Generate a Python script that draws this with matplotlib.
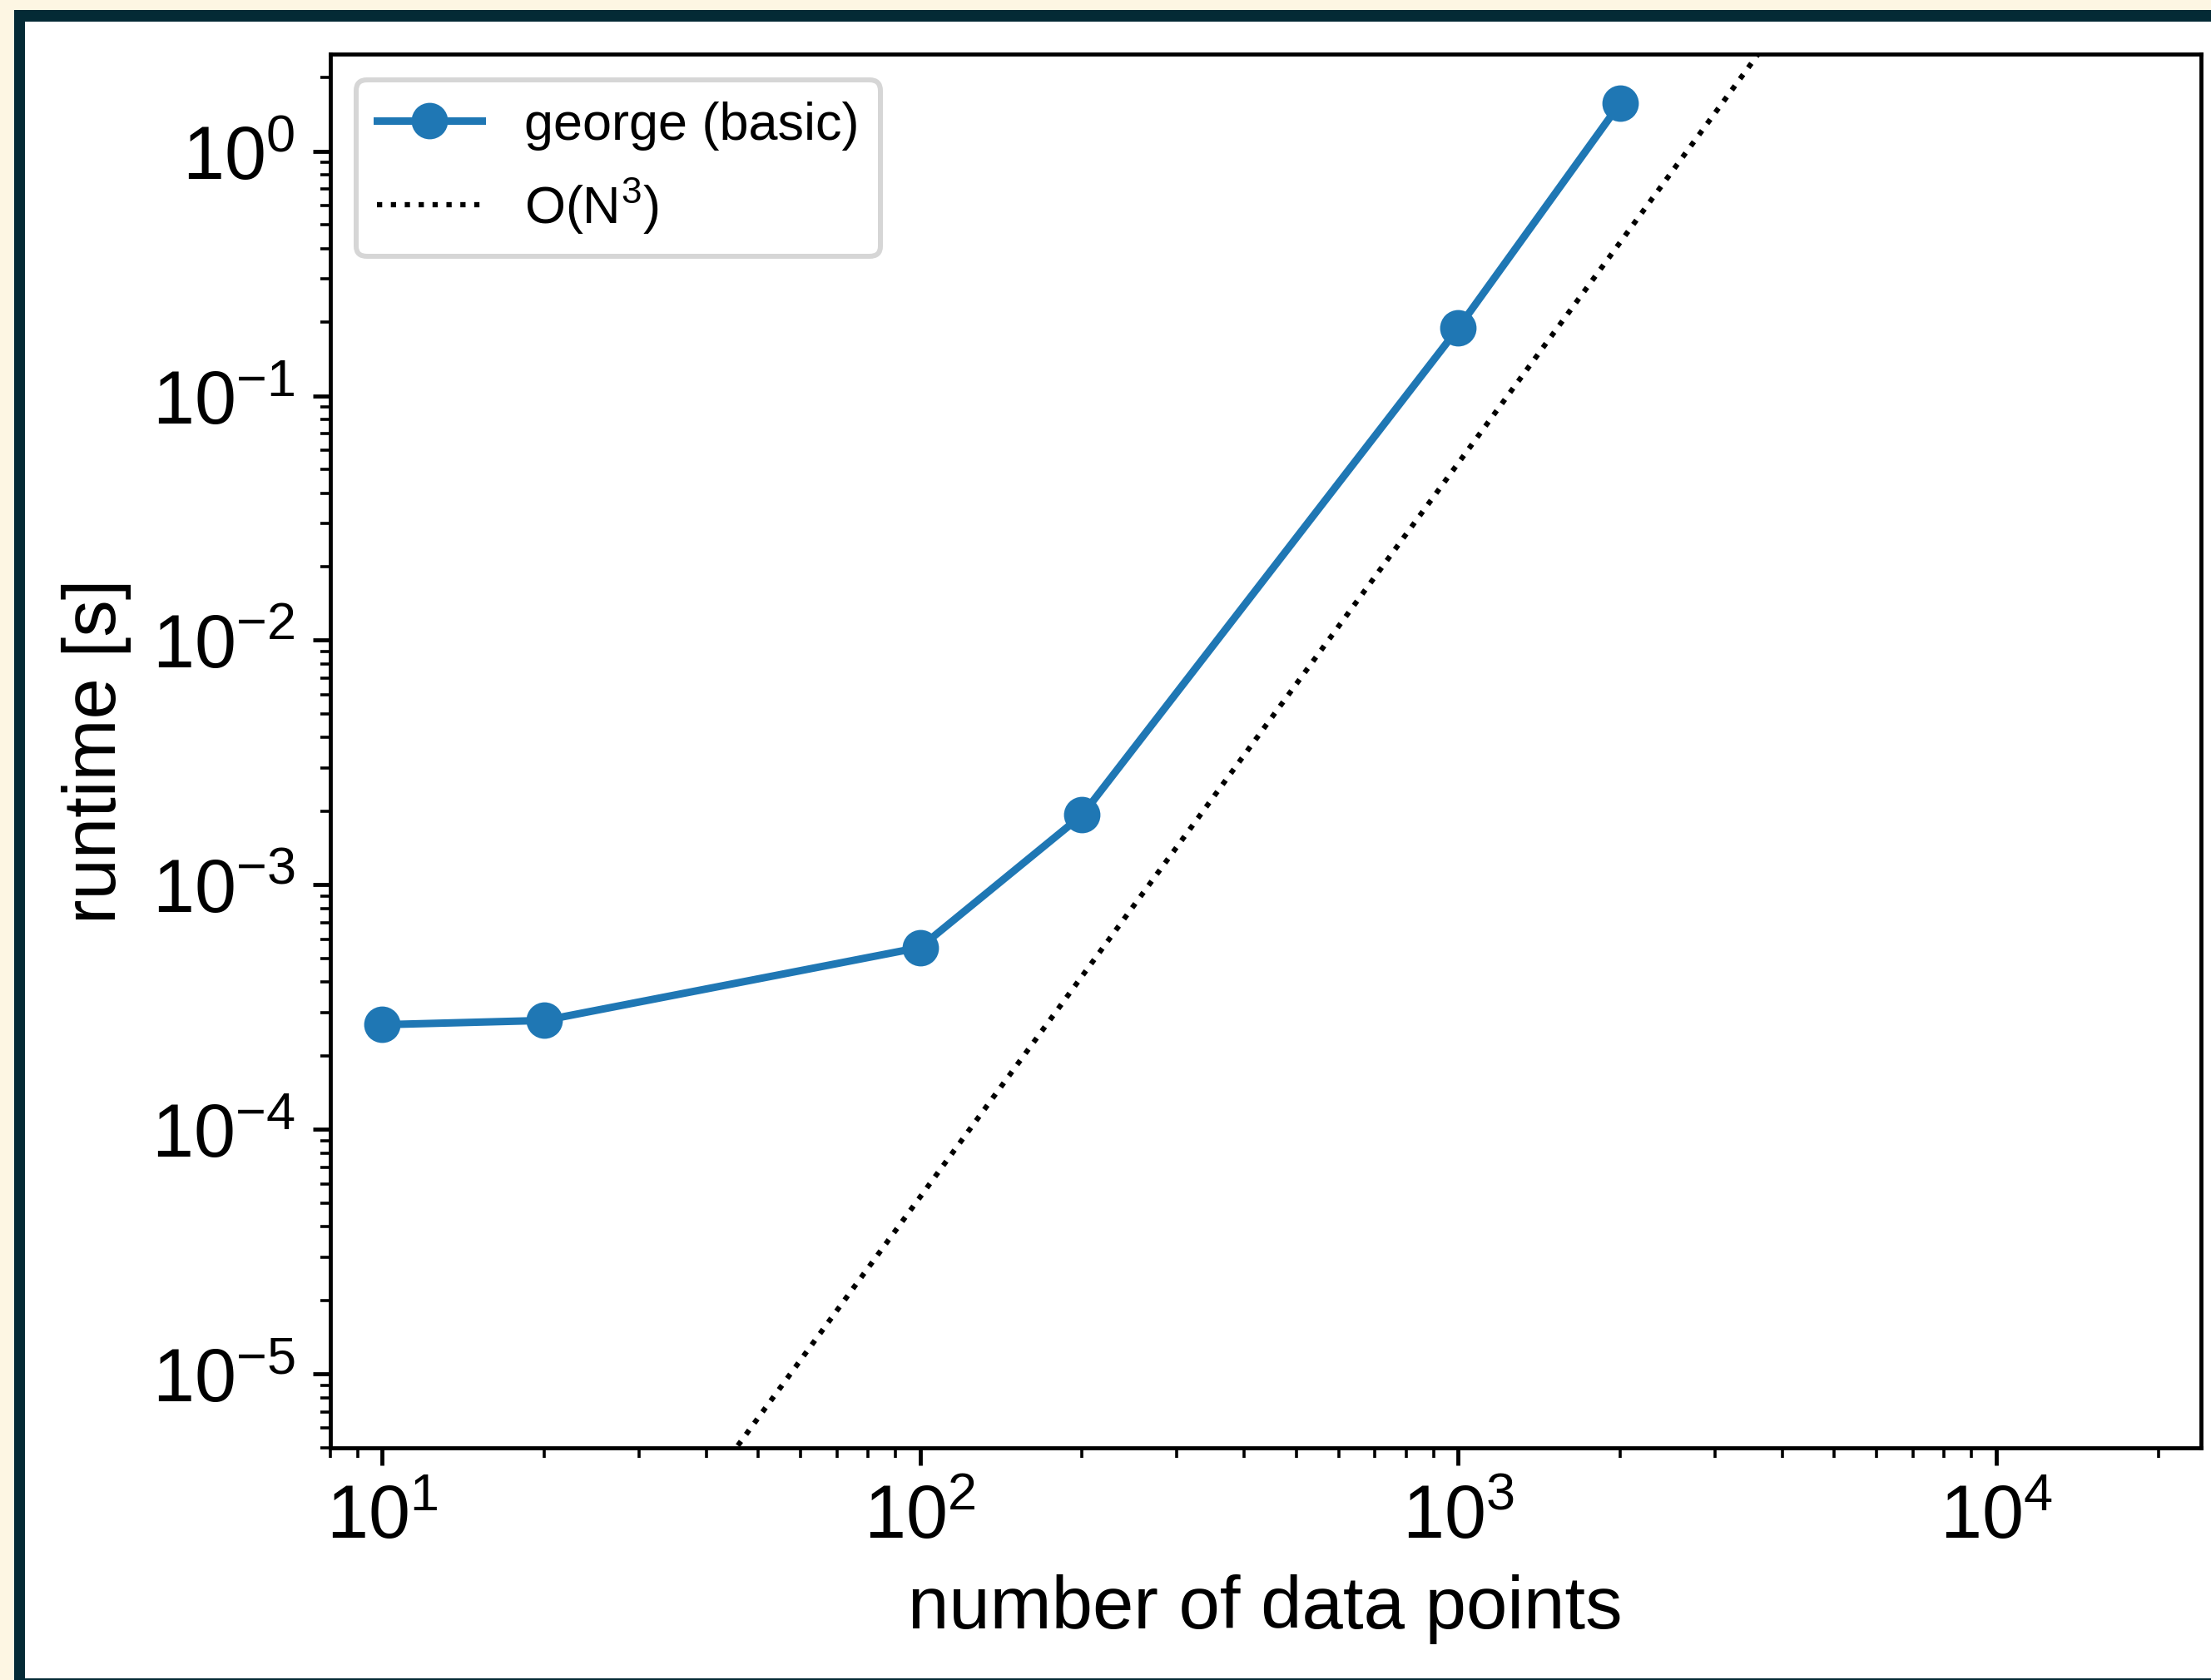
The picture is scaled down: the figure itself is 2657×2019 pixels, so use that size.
import matplotlib
matplotlib.use('Agg')
import matplotlib.pyplot as plt
from matplotlib.patches import Rectangle
import numpy as np

# benchmark timings
n_points = [10, 20, 100, 200, 1000, 2000]
runtime = [2.68e-4, 2.79e-4, 5.55e-4, 1.93e-3, 0.189, 1.57]

# O(N^3) guide line
scaling_n = [8, 24000]
scaling_coef = 5.3e-11

series_label = 'george (basic)'
scaling_label = r'O(N$^3$)'

plt.rcParams['font.family'] = ['Liberation Sans', 'DejaVu Sans']
plt.rcParams['mathtext.fontset'] = 'custom'
plt.rcParams['mathtext.rm'] = 'Liberation Sans'
plt.rcParams['mathtext.it'] = 'Liberation Sans:italic'

W, H = 2657, 2020
dpi = 432
fig = plt.figure(figsize=(W / dpi, H / dpi), dpi=dpi)
fig.patch.set_facecolor('#fdf6e3')

# screenshot frame: dark border then white canvas
fig.add_artist(Rectangle((17 / W, 0), 1, (H - 13) / H, transform=fig.transFigure,
                         facecolor='#042a35', edgecolor='none', zorder=-10))
fig.add_artist(Rectangle((30 / W, 2 / H), 1, (H - 29) / H, transform=fig.transFigure,
                         facecolor='white', edgecolor='none', zorder=-9))

left, right, top, bottom = 396.7, 2644.7, 65.7, 1740.7
ax = fig.add_axes([left / W, 1 - bottom / H, (right - left) / W, (bottom - top) / H])

ax.plot(n_points, runtime, 'o-', color='#1f77b4', lw=1.5, ms=6.3, label=series_label)
sn = np.array(scaling_n, dtype=float)
ax.plot(sn, scaling_coef * sn ** 3, ':', color='black', lw=1.05, label=scaling_label)

ax.set_xscale('log')
ax.set_yscale('log')
ax.set_xlim(8.0, 24000)
ax.set_ylim(5.0e-6, 2.5)

ax.set_xlabel('number of data points', fontsize=14.8)
ax.set_ylabel('runtime [s]', fontsize=14.8)
ax.tick_params(labelsize=15)

ax.legend(loc='upper left', fontsize=10.5)

plt.savefig('out.png', dpi=dpi)
